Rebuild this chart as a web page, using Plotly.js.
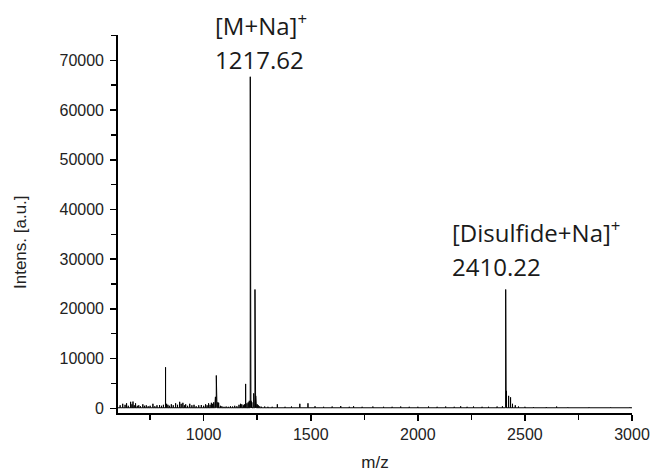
<!DOCTYPE html>
<html>
<head>
<meta charset="utf-8">
<script src="https://cdn.plot.ly/plotly-3.0.1.min.js"></script>
<style>html,body{margin:0;padding:0;background:#fff;}#chart{width:654px;height:474px;}</style>
</head>
<body>
<div id="chart"></div>
<script>
// Peak list (m/z, intensity in a.u.)
const peakMz = [
  610, 622, 633, 640, 648, 659, 665, 670, 676, 682, 690, 697, 705, 716, 724, 732, 741, 750,
  763, 772, 782, 794, 803, 812, 822, 827, 833, 840, 849, 858, 869, 878, 888, 895, 903, 910,
  916, 925, 935, 945, 955, 965, 977, 989, 1000, 1009, 1016, 1023, 1030, 1036, 1042, 1047,
  1052, 1055, 1059, 1062, 1066, 1070, 1078, 1085, 1095, 1105, 1115, 1125, 1135, 1145, 1155,
  1165, 1172, 1178, 1185, 1190, 1196, 1202, 1208, 1213, 1217.62, 1218.62, 1219.6, 1221, 1225,
  1233.6, 1236, 1239.6, 1240.6, 1241.6, 1243, 1246, 1250, 1255, 1262, 1270, 1285, 1300, 1320,
  1344, 1380, 1410, 1449, 1487, 1520, 1560, 1600, 1640, 1680, 1700, 1740, 1790, 1840, 1880,
  1920, 1960, 2000, 2050, 2090, 2130, 2170, 2200, 2230, 2260, 2300, 2330, 2370, 2395,
  2410.22, 2411.22, 2412.2, 2414, 2424, 2433, 2442, 2455, 2470, 2500, 2540, 2600, 2648,
  2700, 2800, 2900, 2990
];
const peakIntensity = [
  600, 900, 700, 1000, 500, 1300, 800, 1350, 600, 1000, 500, 600, 400, 800, 500, 600, 400, 500,
  900, 400, 600, 650, 500, 700, 8250, 900, 700, 500, 800, 600, 1000, 700, 1300, 900, 1100, 600,
  800, 500, 900, 600, 700, 400, 600, 650, 500, 800, 600, 1000, 700, 1100, 900, 1200,
  1600, 2300, 6600, 1500, 1200, 1100, 500, 400, 300, 350, 300, 400, 350, 500, 400,
  700, 900, 800, 600, 800, 4900, 1000, 1200, 1500, 66700, 25100, 5000, 1500, 1200,
  3000, 2000, 23900, 8000, 6000, 2500, 1500, 800, 600, 400, 300, 350, 300, 300,
  800, 300, 350, 900, 1000, 400, 300, 350, 450, 300, 400, 300, 350, 300, 300,
  350, 300, 300, 350, 300, 350, 300, 400, 300, 350, 300, 300, 350, 400,
  23900, 20300, 8000, 3500, 2500, 2200, 900, 600, 350, 300, 250, 250, 350,
  200, 200, 200, 200
];
const baselineLevel = 100;

const xTitle = "m/z";
const yTitle = "Intens. [a.u.]";
const labelTop1 = ["[M+Na]<sup>+</sup>", "1217.62"];
const labelTop2 = ["[Disulfide+Na]<sup>+</sup>", "2410.22"];

// Build stick spectrum from the peak list
const xs = [600], ys = [baselineLevel];
for (let i = 0; i < peakMz.length; i++) {
  const m = peakMz[i], h = peakIntensity[i];
  xs.push(m - 0.3, m, m + 0.3);
  ys.push(baselineLevel, h, baselineLevel);
}
xs.push(3000); ys.push(baselineLevel);

const labelFont = {family: "Open Sans, sans-serif", size: 24, color: "#1a1a1a"};
const tickFont = {family: "Liberation Sans, Arial, sans-serif", size: 16, color: "#222"};
const titleFont = {family: "Liberation Sans, Arial, sans-serif", size: 17, color: "#222"};

const data = [{
  type: "scatter", mode: "lines", x: xs, y: ys,
  line: {color: "#000", width: 1}, hoverinfo: "skip", showlegend: false
}];

const layout = {
  width: 654, height: 474,
  margin: {l: 118, r: 22, t: 35, b: 61},
  paper_bgcolor: "#fff", plot_bgcolor: "#fff",
  showlegend: false,
  xaxis: {
    range: [600, 3000], tick0: 0, dtick: 500, ticks: "outside", ticklen: 6, tickwidth: 1.5,
    tickcolor: "#000", showline: true, linecolor: "#000", linewidth: 1.8,
    showgrid: false, zeroline: false, tickfont: tickFont, tickformat: "d", automargin: false,
    minor: {dtick: 250, ticks: "outside", ticklen: 5, tickwidth: 1.5, tickcolor: "#000", showgrid: false},
    title: {text: xTitle, font: titleFont, standoff: 14}
  },
  yaxis: {
    range: [-950, 75100], tick0: 0, dtick: 10000, ticks: "outside", ticklen: 6, tickwidth: 1.5,
    tickcolor: "#000", showline: true, linecolor: "#000", linewidth: 1.8,
    showgrid: false, zeroline: false, tickfont: tickFont, ticklabelstandoff: 3,
    tickformat: "d", automargin: false,
    minor: {dtick: 5000, ticks: "outside", ticklen: 5, tickwidth: 1.5, tickcolor: "#000", showgrid: false}
  },
  annotations: [
    {xref: "paper", yref: "paper", x: (20 - 118) / 514, y: (413 - 242) / 378, xanchor: "center", yanchor: "middle", textangle: -90, text: yTitle, showarrow: false, font: titleFont},
    {xref: "paper", yref: "paper", x: (213 - 118) / 514, y: 1.0 + 11/378, xanchor: "left", yanchor: "middle", text: labelTop1[0], showarrow: false, font: labelFont},
    {xref: "paper", yref: "paper", x: (213 - 118) / 514, y: 1.0 - 24/378, xanchor: "left", yanchor: "middle", text: labelTop1[1], showarrow: false, font: labelFont},
    {xref: "paper", yref: "paper", x: (450 - 118) / 514, y: (413 - 231) / 378, xanchor: "left", yanchor: "middle", text: labelTop2[0], showarrow: false, font: labelFont},
    {xref: "paper", yref: "paper", x: (450 - 118) / 514, y: (413 - 266) / 378, xanchor: "left", yanchor: "middle", text: labelTop2[1], showarrow: false, font: labelFont}
  ]
};

Plotly.newPlot("chart", data, layout, {staticPlot: true, displayModeBar: false});
</script>
</body>
</html>
